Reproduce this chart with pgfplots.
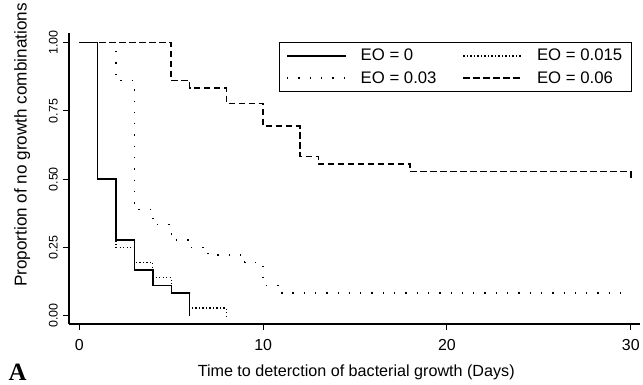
\documentclass[border=0pt]{standalone}
\usepackage{fontspec}
\setmainfont{Liberation Sans}
\newfontfamily\serifA{Liberation Serif}
\usepackage{pgfplots}
\pgfplotsset{compat=1.18}
\begin{document}
\begin{tikzpicture}
\path[use as bounding box] (0,0) rectangle (643bp,385bp);
\begin{axis}[
  at={(69bp,61bp)}, anchor=south west,
  scale only axis, width=571bp, height=291bp,
  xmin=-0.56, xmax=30.5, ymin=-0.0304, ymax=1.0355,
  axis x line=bottom, axis y line=left,
  axis line style={-, line width=1.3bp, black},
  tick align=outside, major tick length=6bp,
  tick style={line width=1bp, black},
  xtick={0,10,20,30}, xticklabels={0,10,20,30},
  ytick={0,0.25,0.5,0.75,1}, yticklabels={0.00,0.25,0.50,0.75,1.00},
  xticklabel style={font=\fontsize{16}{18}\selectfont, inner sep=2bp, yshift=-7bp},
  yticklabel style={font=\fontsize{12.5}{14}\selectfont, xshift=-5bp, rotate=90, anchor=south, inner sep=0bp},
  xlabel={Time to deterction of bacterial growth (Days)},
  ylabel={Proportion of no growth combinations},
  every axis x label/.style={at={(rel axis cs:0.503,-0.179)}, anchor=base, font=\fontsize{16.2}{19}\selectfont},
  every axis y label/.style={at={(rel axis cs:-0.082,0.615)}, rotate=90, anchor=center, font=\fontsize{17.2}{19}\selectfont},
  legend columns=2,
  legend cell align=left,
  legend image code/.code={\draw[#1] (0bp,0bp) -- (59bp,0bp);},
  legend style={at={(rel axis cs:0.9855,0.970)}, anchor=north east,
    draw=black, line width=1.1bp, font=\fontsize{16.8}{18}\selectfont,
    /tikz/every odd column/.append style={column sep=12bp},
    /tikz/every even column/.append style={column sep=24bp},
    inner xsep=7bp, inner ysep=5bp, row sep=5bp},
]
\addplot[const plot, black, line width=1.4bp] coordinates {
 (0,1) (1,0.5) (2,0.2778) (3,0.1667) (4,0.1111) (5,0.0833) (6,0)};
\addlegendentry{EO = 0}
\addplot[const plot, black, line width=1.3bp, dash pattern=on 1.2bp off 2.3bp] coordinates {
 (0,1) (1,0.5) (2,0.25) (3,0.1944) (4,0.1389) (5,0.0833) (6,0.0278) (8,0)};
\addlegendentry{EO = 0.015}
\addplot[const plot, black, line width=1.4bp, dash pattern=on 1.3bp off 10bp] coordinates {
 (0,1) (2,0.8611) (3,0.3889) (4,0.3333) (5,0.2778) (6,0.25) (7,0.2222) (9,0.1944) (10,0.1111) (11,0.0833) (30,0.0833)};
\addlegendentry{EO = 0.03}
\addplot[const plot, black, line width=1.5bp, dash pattern=on 6.5bp off 3.5bp] coordinates {
 (0,1) (5,0.8611) (6,0.8333) (8,0.7778) (10,0.6944) (12,0.5833) (13,0.5556) (18,0.5278) (30,0.5)};
\addlegendentry{EO = 0.06}
\end{axis}
\node[anchor=base, inner sep=0pt] at (17.5bp,5bp) {\serifA\bfseries\fontsize{25}{25}\selectfont A};
\end{tikzpicture}
\end{document}
